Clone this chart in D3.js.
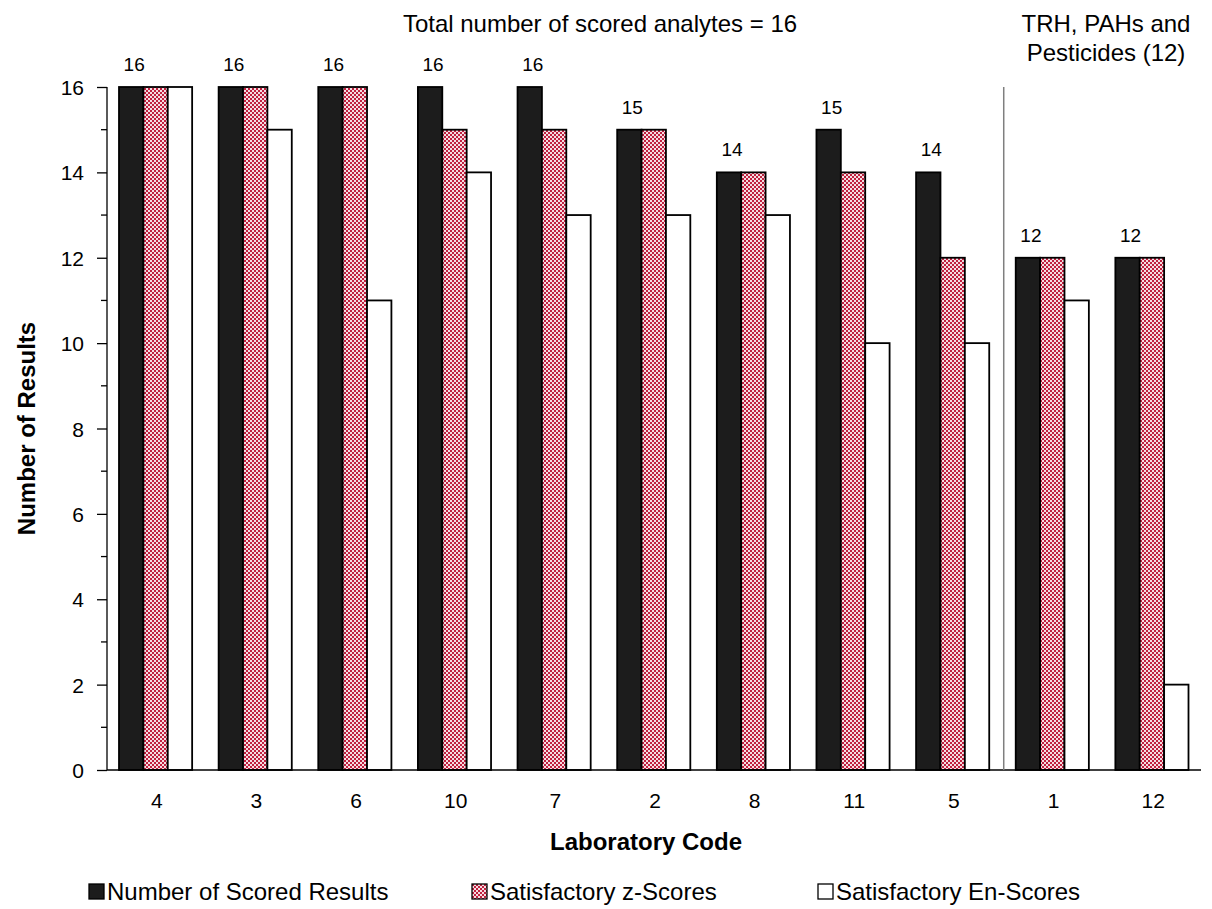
<!DOCTYPE html>
<html>
<head>
<meta charset="utf-8">
<script src="https://cdn.jsdelivr.net/npm/d3@7"></script>
<style>
  html, body { margin: 0; padding: 0; background: #fff; }
  svg { display: block; font-family: "Liberation Sans", Arial, sans-serif; }
</style>
</head>
<body>
<svg id="chart" width="1212" height="909"></svg>
<script>
// Laboratory codes, in plotted order
const labCodes = ["4", "3", "6", "10", "7", "2", "8", "11", "5", "1", "12"];
// Number of scored results per laboratory
const scoredResults = [16, 16, 16, 16, 16, 15, 14, 15, 14, 12, 12];
// Satisfactory z-scores per laboratory
const satZScores = [16, 16, 16, 15, 15, 15, 14, 14, 12, 12, 12];
// Satisfactory En-scores per laboratory
const satEnScores = [16, 15, 11, 14, 13, 13, 13, 10, 10, 11, 2];
// Y axis major tick values
const yTicks = [0, 2, 4, 6, 8, 10, 12, 14, 16];
const seriesNames = ["Number of Scored Results", "Satisfactory z-Scores", "Satisfactory En-Scores"];

const FONT = "Liberation Sans, Arial, sans-serif";
const svg = d3.select("#chart");
const plotLeft = 107, plotRight = 1203;

const defs = svg.append("defs");
const pat = defs.append("pattern")
  .attr("id", "checker")
  .attr("patternUnits", "userSpaceOnUse")
  .attr("width", 4).attr("height", 4);
pat.append("rect").attr("width", 4).attr("height", 4).attr("fill", "#f4dde2");
pat.append("rect").attr("x", 0).attr("y", 0).attr("width", 2).attr("height", 2).attr("fill", "#c0203f");
pat.append("rect").attr("x", 2).attr("y", 2).attr("width", 2).attr("height", 2).attr("fill", "#c0203f");

const fills = ["#1c1c1c", "url(#checker)", "#ffffff"];

const x = d3.scaleBand()
  .domain(labCodes)
  .range([plotLeft, plotRight]);

const x1 = d3.scaleBand()
  .domain([0, 1, 2])
  .range([12, x.bandwidth() - 14.5]);

const y = d3.scaleLinear()
  .domain([0, 16])
  .range([770, 87]);

const rows = labCodes.map((c, i) => ({
  code: c,
  vals: [scoredResults[i], satZScores[i], satEnScores[i]]
}));

// Bars
const g = svg.append("g");
rows.forEach(r => {
  r.vals.forEach((v, k) => {
    g.append("rect")
      .attr("x", x(r.code) + x1(k))
      .attr("y", y(v))
      .attr("width", x1.bandwidth())
      .attr("height", y(0) - y(v))
      .attr("fill", fills[k])
      .attr("stroke", "#000")
      .attr("stroke-width", 1.8);
  });
});

// Value labels above the scored-results bars
rows.forEach(r => {
  svg.append("text")
    .attr("x", x(r.code) + x1(0) + x1.bandwidth() / 2 + 3)
    .attr("y", y(r.vals[0]) - 16)
    .attr("text-anchor", "middle")
    .attr("font-size", 19)
    .attr("fill", "#000")
    .text(r.vals[0]);
});

// Y axis
const yAxis = d3.axisLeft(y).tickValues(yTicks).tickSize(10).tickPadding(13).tickFormat(d3.format("d"));
const ya = svg.append("g").attr("transform", `translate(${plotLeft},0)`).call(yAxis);
ya.attr("font-family", FONT).attr("font-size", 21);
ya.select(".domain").attr("stroke", "#000").attr("stroke-width", 1.3).attr("d", `M0,${y(0)}V${y(16)}`);
ya.selectAll(".tick line").attr("stroke", "#000").attr("stroke-width", 1.3);
ya.selectAll(".tick text").attr("fill", "#000").attr("dy", "0.36em");
// Minor ticks at odd values
const minor = d3.range(1, 16, 2);
svg.append("g").selectAll("line").data(minor).join("line")
  .attr("x1", plotLeft - 6).attr("x2", plotLeft)
  .attr("y1", d => y(d)).attr("y2", d => y(d))
  .attr("stroke", "#000").attr("stroke-width", 1.3);

// X axis
const xAxis = d3.axisBottom(x).tickSize(0).tickPadding(23);
const xa = svg.append("g").attr("transform", `translate(0,${y(0)})`).call(xAxis);
xa.attr("font-family", FONT).attr("font-size", 21);
xa.select(".domain").attr("stroke", "#000").attr("stroke-width", 1.3).attr("d", `M${plotLeft},0H${plotRight - 2}`);
xa.selectAll(".tick text").attr("fill", "#000");

// Separator between the two groups of analytes
const sepX = x("1");
svg.append("line")
  .attr("x1", sepX).attr("x2", sepX)
  .attr("y1", y(16)).attr("y2", y(0))
  .attr("stroke", "#7f7f7f").attr("stroke-width", 1.5);

// Header annotations
svg.append("text")
  .attr("x", 600).attr("y", 32)
  .attr("text-anchor", "middle").attr("font-size", 24)
  .text("Total number of scored analytes = 16");
const t2 = svg.append("text")
  .attr("x", 1106).attr("y", 32)
  .attr("text-anchor", "middle").attr("font-size", 24);
t2.append("tspan").attr("x", 1106).attr("dy", 0).text("TRH, PAHs and");
t2.append("tspan").attr("x", 1106).attr("dy", 29).text("Pesticides (12)");

// Axis titles
svg.append("text")
  .attr("x", 646).attr("y", 850)
  .attr("text-anchor", "middle").attr("font-size", 24).attr("font-weight", "bold")
  .text("Laboratory Code");
svg.append("text")
  .attr("transform", `translate(35,${(y(0) + y(16)) / 2}) rotate(-90)`)
  .attr("text-anchor", "middle").attr("font-size", 24).attr("font-weight", "bold")
  .text("Number of Results");

// Legend
const legendX = [89, 472, 818];
seriesNames.forEach((name, k) => {
  svg.append("rect")
    .attr("x", legendX[k]).attr("y", 884)
    .attr("width", 15).attr("height", 15)
    .attr("fill", fills[k]).attr("stroke", "#000").attr("stroke-width", 1.3);
  svg.append("text")
    .attr("x", legendX[k] + 18).attr("y", 900)
    .attr("font-size", 24)
    .text(name);
});
</script>
</body>
</html>
